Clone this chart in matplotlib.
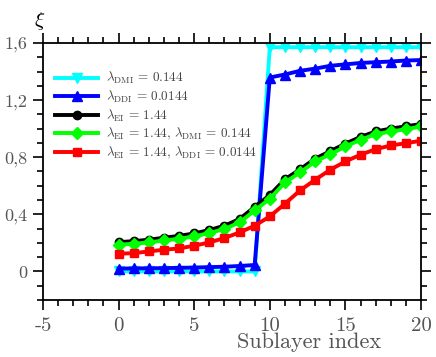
import numpy as np
import matplotlib
matplotlib.use("Agg")
import matplotlib.pyplot as plt
from matplotlib.ticker import MultipleLocator, FuncFormatter

plt.rcParams["font.family"] = ["cmr10", "DejaVu Serif"]
plt.rcParams["mathtext.fontset"] = "cm"
plt.rcParams["axes.unicode_minus"] = False

# Sublayer index
idx = list(range(0, 21))

# xi for each case
xi_dmi = [0.0] * 10 + [1.57] * 11
xi_ddi = [0.020, 0.021, 0.022, 0.023, 0.025, 0.027, 0.030, 0.033, 0.038, 0.045,
          1.358, 1.379, 1.405, 1.420, 1.440, 1.450, 1.460, 1.465, 1.470, 1.477, 1.480]
xi_ei = [0.205, 0.212, 0.222, 0.236, 0.249, 0.266, 0.290, 0.320, 0.367, 0.452,
         0.535, 0.645, 0.715, 0.790, 0.842, 0.895, 0.942, 0.980, 1.000, 1.016, 1.032]
xi_ei_dmi = [0.187, 0.194, 0.203, 0.217, 0.229, 0.245, 0.269, 0.297, 0.343, 0.427,
             0.509, 0.623, 0.693, 0.770, 0.820, 0.875, 0.922, 0.961, 0.980, 0.996, 1.015]
xi_ei_ddi = [0.124, 0.128, 0.140, 0.152, 0.161, 0.180, 0.203, 0.234, 0.273, 0.320,
             0.385, 0.474, 0.567, 0.642, 0.712, 0.770, 0.817, 0.856, 0.882, 0.898, 0.915]

labels = [r"$\lambda_{\rm DMI}\, =\, 0.144$",
          r"$\lambda_{\rm DDI}\, =\, 0.0144$",
          r"$\lambda_{\rm EI}\, =\, 1.44$",
          r"$\lambda_{\rm EI}\, =\, 1.44,\, \lambda_{\rm DMI}\, =\, 0.144$",
          r"$\lambda_{\rm EI}\, =\, 1.44,\, \lambda_{\rm DDI}\, =\, 0.0144$"]

fig = plt.figure(figsize=(4.36, 3.57), dpi=100)
ax = fig.add_axes([0.0986, 0.1597, 0.867, 0.72])

lw = 2.8
ax.plot(idx, xi_dmi, color="#00ffff", marker="v", ms=7, lw=lw, label=labels[0])
ax.plot(idx, xi_ddi, color="#0000ff", marker="^", ms=7, lw=lw, label=labels[1])
ax.plot(idx, xi_ei, color="black", marker="o", ms=6, lw=lw, label=labels[2])
ax.plot(idx, xi_ei_dmi, color="#00ff00", marker="D", ms=6, lw=lw, label=labels[3])
ax.plot(idx, xi_ei_ddi, color="#ff0000", marker="s", ms=6, lw=lw, label=labels[4])

ax.set_xlim(-5, 20)
ax.set_ylim(-0.2, 1.6)

ax.xaxis.set_major_locator(MultipleLocator(5))
ax.xaxis.set_minor_locator(MultipleLocator(1))
ax.yaxis.set_major_locator(MultipleLocator(0.4))
ax.yaxis.set_minor_locator(MultipleLocator(0.1))

ax.xaxis.set_major_formatter(FuncFormatter(lambda v, p: "%d" % round(v)))
ax.yaxis.set_major_formatter(
    FuncFormatter(lambda v, p: "0" if abs(v) < 1e-9 else ("%.1f" % v).replace(".", ",")))

ax.tick_params(which="both", direction="out", top=True, right=True, width=1.2, color="black")
ax.tick_params(which="major", length=7)
ax.tick_params(which="minor", length=4)
ax.tick_params(axis="x", labelsize=15, labelcolor="#555555", pad=5)
ax.tick_params(axis="y", labelsize=13, labelcolor="#555555", pad=4)
for s in ax.spines.values():
    s.set_linewidth(1.3)

fig.text(0.708, 0.04, "Sublayer index", fontsize=16, color="#555555", ha="center", va="center")
fig.text(0.092, 0.94, r"$\xi$", fontsize=15, color="black", ha="center", va="center")

ax.legend(loc="upper left", bbox_to_anchor=(0.0, 0.94), frameon=False, fontsize=9.5,
          handlelength=3.3, handletextpad=0.6, labelspacing=0.18, borderaxespad=0.5,
          labelcolor="#444444")

fig.savefig("out.png", dpi=100)
